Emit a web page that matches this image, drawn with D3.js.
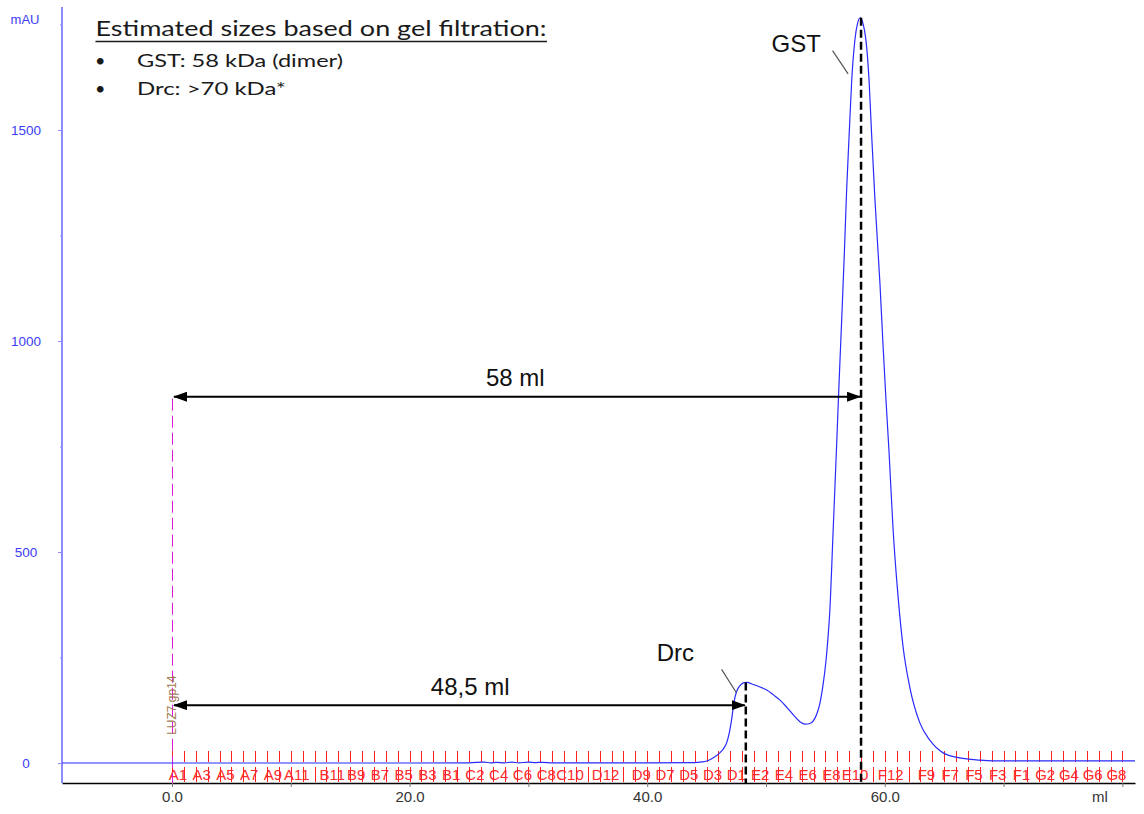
<!DOCTYPE html>
<html>
<head>
<meta charset="utf-8">
<script src="https://cdn.jsdelivr.net/npm/d3@7"></script>
<style>
  body { margin: 0; background: #fff; }
  svg { display: block; }
</style>
</head>
<body>
<svg id="chromatogram" width="1144" height="814"></svg>
<script>
// UV 280 trace (ml, mAU)
const volume = [
  -9.26, 0, 10, 20, 25, 26.3, 26.8, 27.3, 28, 28.6, 29.2, 30, 30.6, 31.2, 32, 36, 40,
  44, 44.6, 45.14, 45.6, 46.11, 46.4, 46.68, 46.9, 47.11, 47.33, 47.5, 47.67, 47.9,
  48.09, 48.38, 48.93, 49.5, 50.06, 50.6, 51.18, 51.75, 52.3, 52.85, 53.3, 53.65,
  53.98, 54.3, 54.55, 54.8, 55.04, 55.2, 55.37, 55.65, 55.94, 56.17, 56.37, 56.59,
  56.79, 57.01, 57.21, 57.49, 57.7, 57.93, 58.15, 58.4, 58.68, 58.88, 59.17, 59.59,
  59.86, 60.09, 60.36, 60.7, 61.12, 61.54, 62.1, 62.95, 63.79, 64.91, 66.31, 68, 70,
  75, 81.06
];
const absorbance = [
  0, 0, 0, 0, 0.5, 2, 0.5, 1.5, 0.5, 2, 0.5, 2, 1, 1.5, 0.5, 0.5, 0.5,
  0.8, 2.5, 6, 13, 24, 33, 47, 70, 104, 148, 167, 178, 186,
  190, 191, 186, 180, 173, 162, 149, 132, 114, 98, 92, 93,
  100, 118, 143, 185, 240, 290, 360, 550, 750, 915, 1050, 1205,
  1360, 1495, 1615, 1715, 1752, 1766, 1754, 1716, 1615, 1495, 1335, 1137,
  985, 865, 735, 552, 393, 275, 180, 95, 54, 24, 12, 7, 5,
  5, 5
];

// fraction collector marks, 1 ml each; "" = fraction without a printed label
const fractionLabels = [
  "A1", "", "A3", "", "A5", "", "A7", "", "A9", "", "A11", "",
  "", "B11", "", "B9", "", "B7", "", "B5", "", "B3", "", "B1",
  "", "C2", "", "C4", "", "C6", "", "C8", "", "C10", "", "",
  "D12", "", "", "D9", "", "D7", "", "D5", "", "D3", "", "D1",
  "", "E2", "", "E4", "", "E6", "", "E8", "", "E10", "", "",
  "F12", "", "", "F9", "", "F7", "", "F5", "", "F3", "", "F1",
  "", "G2", "", "G4", "", "G6", "", "G8"
];

const yTicks = [0, 500, 1000, 1500];
const yMinorTicks = [250, 750, 1250, 1750];
const xTicks = [0, 10, 20, 30, 40, 50, 60, 70, 80];
const xLabelTicks = [0, 20, 40, 60];

// peak markers (elution volume, height where the dashed line starts)
const peakNames = ["Drc", "GST"];
const peakVolumes = [48.3, 58];
const peakHeights = [191, 1766];

// distance arrows from injection (0 ml)
const arrowLabels = ["58 ml", "48,5 ml"];
const arrowEnds = [58, 48.3];
const arrowLevels = [868, 137];

const titleText = "Estimated sizes based on gel filtration:";
const bulletLines = ["GST: 58 kDa (dimer)", "Drc: >70 kDa*"];

const svg = d3.select("#chromatogram");

const plot = { left: 62, right: 1135, top: 7, bottom: 783 };
const x = d3.scaleLinear().domain([-9.26, 81.06]).range([plot.left, plot.right]);
const y = d3.scaleLinear().domain([0, 1500]).range([763, 130]);
const crisp = v => Math.round(v) + 0.5;

const blueAxis = "#8c8cff";
const blueText = "#3c3cf5";
const sans = "Liberation Sans, Arial, sans-serif";

// arrow heads
const defs = svg.append("defs");
defs.append("marker")
  .attr("id", "head")
  .attr("viewBox", "0 0 14 10")
  .attr("refX", 13)
  .attr("refY", 5)
  .attr("markerWidth", 14)
  .attr("markerHeight", 10)
  .attr("markerUnits", "userSpaceOnUse")
  .attr("orient", "auto-start-reverse")
  .append("path")
  .attr("d", "M0,0 L14,5 L0,10 z")
  .attr("fill", "#000");

// Y axis
const yAxisG = svg.append("g").attr("transform", `translate(${plot.left},0)`);
yAxisG.call(d3.axisLeft(y).tickValues(yTicks).tickSize(4).tickFormat(d3.format("d")));
yAxisG.select(".domain").remove();
yAxisG.selectAll(".tick line").attr("stroke", blueAxis);
yAxisG.selectAll(".tick text")
  .attr("x", 26 - plot.left)
  .attr("text-anchor", "middle")
  .attr("fill", blueText)
  .attr("font-family", sans)
  .attr("font-size", 13.5);

const yMinorG = svg.append("g").attr("transform", `translate(${plot.left},0)`);
yMinorG.call(d3.axisLeft(y).tickValues(yMinorTicks).tickSize(2).tickFormat(""));
yMinorG.select(".domain").remove();
yMinorG.selectAll(".tick line").attr("stroke", blueAxis);

svg.append("line")
  .attr("x1", plot.left).attr("x2", plot.left)
  .attr("y1", plot.top).attr("y2", plot.bottom)
  .attr("stroke", blueAxis)
  .attr("stroke-width", 2);

svg.append("text")
  .attr("x", 25).attr("y", 24)
  .attr("text-anchor", "middle")
  .attr("fill", blueText)
  .attr("font-family", sans)
  .attr("font-size", 13)
  .text("mAU");

// X axis
const xAxisG = svg.append("g").attr("transform", `translate(0,${plot.bottom})`);
xAxisG.call(
  d3.axisBottom(x)
    .tickValues(xTicks)
    .tickSize(4)
    .tickSizeOuter(0)
    .tickPadding(4)
    .tickFormat(d => xLabelTicks.includes(d) ? d3.format(".1f")(d) : "")
);
xAxisG.select(".domain").attr("stroke", "#000").attr("stroke-width", 1.5);
xAxisG.selectAll(".tick line").attr("stroke", "#777");
xAxisG.selectAll(".tick text")
  .attr("fill", "#333")
  .attr("font-family", sans)
  .attr("font-size", 15);

svg.append("text")
  .attr("x", x(78.1)).attr("y", 802)
  .attr("text-anchor", "middle")
  .attr("fill", "#333")
  .attr("font-family", sans)
  .attr("font-size", 15)
  .text("ml");

// fraction ticks and labels
const fracG = svg.append("g");
const fracTicks = d3.range(fractionLabels.length + 1);
fracG.selectAll("line.frac-up")
  .data(fracTicks)
  .enter().append("line")
  .attr("class", "frac-up")
  .attr("x1", d => crisp(x(d))).attr("x2", d => crisp(x(d)))
  .attr("y1", y(0) - 12).attr("y2", y(0) - 1)
  .attr("stroke", "#ff2020")
  .attr("stroke-width", 1);
fracG.selectAll("line.frac-down")
  .data(fracTicks)
  .enter().append("line")
  .attr("class", "frac-down")
  .attr("x1", d => crisp(x(d))).attr("x2", d => crisp(x(d)))
  .attr("y1", y(0) + 4).attr("y2", y(0) + 19)
  .attr("stroke", "#ff2020")
  .attr("stroke-width", 1);
fracG.selectAll("text")
  .data(fractionLabels.map((label, i) => ({ label, i })).filter(d => d.label))
  .enter().append("text")
  .attr("x", d => x(d.i + 0.5))
  .attr("y", y(0) + 17)
  .attr("text-anchor", "middle")
  .attr("fill", "#ff2a2a")
  .attr("font-family", sans)
  .attr("font-size", 15)
  .text(d => d.label);

// injection mark
svg.append("line")
  .attr("x1", crisp(x(0))).attr("x2", crisp(x(0)))
  .attr("y1", y(arrowLevels[0]) + 2).attr("y2", plot.bottom)
  .attr("stroke", "#d81ad8")
  .attr("stroke-width", 1)
  .attr("stroke-dasharray", "12,5");

svg.append("text")
  .attr("transform", `translate(${x(0) + 3.5},${y(arrowLevels[1])}) rotate(-90)`)
  .attr("text-anchor", "middle")
  .attr("fill", "#a07b4f")
  .attr("font-family", sans)
  .attr("font-size", 12)
  .text("LUZ7 gp14");

// trace
const trace = volume.map((v, i) => ({ v, a: absorbance[i] }));
svg.append("path")
  .datum(trace)
  .attr("fill", "none")
  .attr("stroke", "#2a2aff")
  .attr("stroke-width", 1.2)
  .attr("d", d3.line().x(d => x(d.v)).y(d => y(d.a)).curve(d3.curveMonotoneX));

// peak dashed lines
svg.selectAll("line.peak")
  .data(peakVolumes)
  .enter().append("line")
  .attr("class", "peak")
  .attr("x1", d => x(d)).attr("x2", d => x(d))
  .attr("y1", (d, i) => y(peakHeights[i]))
  .attr("y2", plot.bottom)
  .attr("stroke", "#000")
  .attr("stroke-width", 2.5)
  .attr("stroke-dasharray", "8,4");

// distance arrows
arrowEnds.forEach((end, i) => {
  svg.append("line")
    .attr("x1", x(0) + 2).attr("x2", x(end) - 1)
    .attr("y1", y(arrowLevels[i])).attr("y2", y(arrowLevels[i]))
    .attr("stroke", "#000")
    .attr("stroke-width", 2)
    .attr("marker-start", "url(#head)")
    .attr("marker-end", "url(#head)");
});

svg.append("text")
  .attr("x", x(28.9)).attr("y", y(893))
  .attr("text-anchor", "middle")
  .attr("font-family", sans).attr("font-size", 24).attr("fill", "#111")
  .text(arrowLabels[0]);
svg.append("text")
  .attr("x", x(25.1)).attr("y", y(160))
  .attr("text-anchor", "middle")
  .attr("font-family", sans).attr("font-size", 24).attr("fill", "#111")
  .text(arrowLabels[1]);

// peak names with leader lines
svg.append("text")
  .attr("x", x(40.8)).attr("y", y(242))
  .attr("font-family", sans).attr("font-size", 24).attr("fill", "#111")
  .text(peakNames[0]);
svg.append("line")
  .attr("x1", x(46.26)).attr("y1", y(222))
  .attr("x2", x(47.52)).attr("y2", y(166))
  .attr("stroke", "#555").attr("stroke-width", 1.2);

svg.append("text")
  .attr("x", x(50.47)).attr("y", y(1685))
  .attr("font-family", sans).attr("font-size", 24).attr("fill", "#111")
  .text(peakNames[1]);
svg.append("line")
  .attr("x1", x(55.6)).attr("y1", y(1688))
  .attr("x2", x(56.91)).attr("y2", y(1633))
  .attr("stroke", "#555").attr("stroke-width", 1.2);

// text box, top left
const boxFont = "Lato, 'Open Sans', sans-serif";
svg.append("text")
  .attr("x", 95.5).attr("y", 36)
  .attr("font-family", boxFont).attr("font-size", 22).attr("fill", "#1a1a1a")
  .attr("textLength", 451).attr("lengthAdjust", "spacingAndGlyphs")
  .text(titleText);
svg.append("line")
  .attr("x1", 95.5).attr("x2", 547)
  .attr("y1", 41.5).attr("y2", 41.5)
  .attr("stroke", "#1a1a1a").attr("stroke-width", 1.5);

const bulletWidths = [206, 149];
bulletLines.forEach((line, i) => {
  const yy = 67 + i * 27.5;
  svg.append("text")
    .attr("x", 95).attr("y", yy)
    .attr("font-family", boxFont).attr("font-size", 18).attr("fill", "#1a1a1a")
    .text("•");
  svg.append("text")
    .attr("x", 137).attr("y", yy)
    .attr("font-family", boxFont).attr("font-size", 18).attr("fill", "#1a1a1a")
    .attr("textLength", bulletWidths[i]).attr("lengthAdjust", "spacingAndGlyphs")
    .text(line);
});
</script>
</body>
</html>
